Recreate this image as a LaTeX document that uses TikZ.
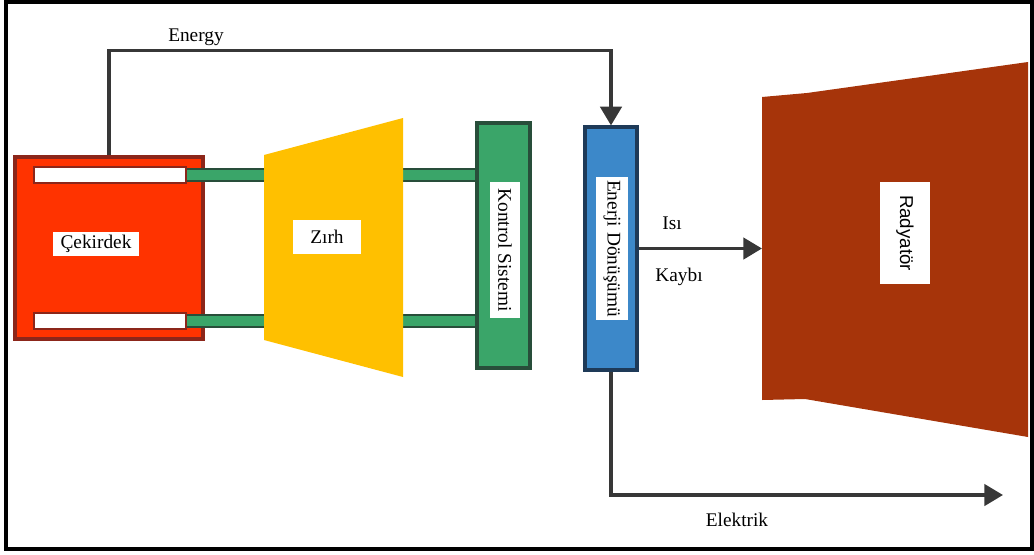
\documentclass[tikz,border=0pt]{standalone}
\usepackage{fontspec}
\setmainfont{Liberation Serif}
\newfontfamily\labelsans{Liberation Sans}
\usetikzlibrary{arrows.meta}

\definecolor{coreRed}{RGB}{255,51,0}
\definecolor{coreEdge}{RGB}{140,38,26}
\definecolor{shieldYellow}{RGB}{255,192,0}
\definecolor{rodGreen}{RGB}{58,165,105}
\definecolor{rodEdge}{RGB}{40,78,58}
\definecolor{convBlue}{RGB}{60,136,201}
\definecolor{convEdge}{RGB}{30,58,88}
\definecolor{radBrown}{RGB}{166,52,10}
\definecolor{flowGrey}{RGB}{55,55,55}

\begin{document}
\begin{tikzpicture}[x=0.75pt,y=0.75pt,yscale=-1,xscale=1,
  font=\fontsize{14.5}{17}\selectfont,
  flow/.style={draw=flowGrey,line width=2.6pt,-{Triangle[length=14pt,width=16pt]}},
  rod/.style={draw=rodEdge,fill=rodGreen,line width=2pt},
  bar/.style={draw=coreEdge,fill=white,line width=2pt},
  unit/.style={rectangle,line width=2.4pt,inner sep=0pt},
  tag/.style={fill=white,inner sep=1pt}]
\useasboundingbox (0,0) rectangle (1034,554);

%Shape: Frame
\draw [line width=3pt] (6,2) rectangle (1032,549) ;

%Shape: Rectangle [core]
\node [unit,draw=coreEdge,fill=coreRed,minimum width=141pt,minimum height=136.5pt] (cekirdek) at (109,248) {};
%Shape: Rods
\draw [rod] (186,169) rectangle (477,181) ;
\draw [rod] (186,315) rectangle (477,327) ;
%Shape: White bars
\draw [bar] (34,167) rectangle (186,183) ;
\draw [bar] (34,313) rectangle (186,329) ;

%Shape: Trapezoid [shield]
\fill [shieldYellow] (264,155) -- (403,118) -- (403,377) -- (264,340) -- cycle ;

%Shape: Rectangle [control]
\node [unit,draw=rodEdge,fill=rodGreen,minimum width=39.75pt,minimum height=183.75pt] (kontrol) at (503.5,245.5) {};
%Shape: Rectangle [converter]
\node [unit,draw=convEdge,fill=convBlue,minimum width=39pt,minimum height=182.25pt] (enerji) at (611,248.5) {};

%Shape: Polygon [radiator]
\fill [radBrown] (762,97) -- (807,93) -- (1028,62) -- (1028,437) -- (805,399) -- (762,400) -- cycle ;
\coordinate (radyator) at (762,248.5) ;
\coordinate (elektrikEnd) at (1003,495) ;

%Straight Lines
\draw [flow] (cekirdek.north) -- ++(0,-105) -| (enerji.north) ;
\draw [flow] (enerji.east) -- (radyator) ;
\draw [flow] (enerji.south) |- (elektrikEnd) ;

% Text Node
\node [tag,minimum width=64pt,minimum height=18pt] (tCekirdek) at (96,244) {Çekirdek};
% Text Node
\node [tag,minimum width=51pt,minimum height=26pt] (tZirh) at (327,237) {Zırh};
% Text Node
\node [tag,rotate=-90,minimum width=102pt,minimum height=22.5pt] (tKontrol) at (505,250) {Kontrol Sistemi};
% Text Node
\node [tag,rotate=-90,minimum width=107pt,minimum height=24pt] (tEnerji) at (612,248.5) {Enerji Dönüşümü};
% Text Node
\node [tag,rotate=-90,minimum width=77pt,minimum height=37.5pt,font=\labelsans\fontsize{14}{16}\selectfont] (tRadyator) at (905,233) {Radyatör};
% Text Node
\node (tEnergy) at (196,37) {Energy};
% Text Node
\node (tIsi) at (672,223) {Isı};
% Text Node
\node (tKaybi) at (679,277) {Kaybı};
% Text Node
\node (tElektrik) at (737,520) {Elektrik};
\end{tikzpicture}
\end{document}
